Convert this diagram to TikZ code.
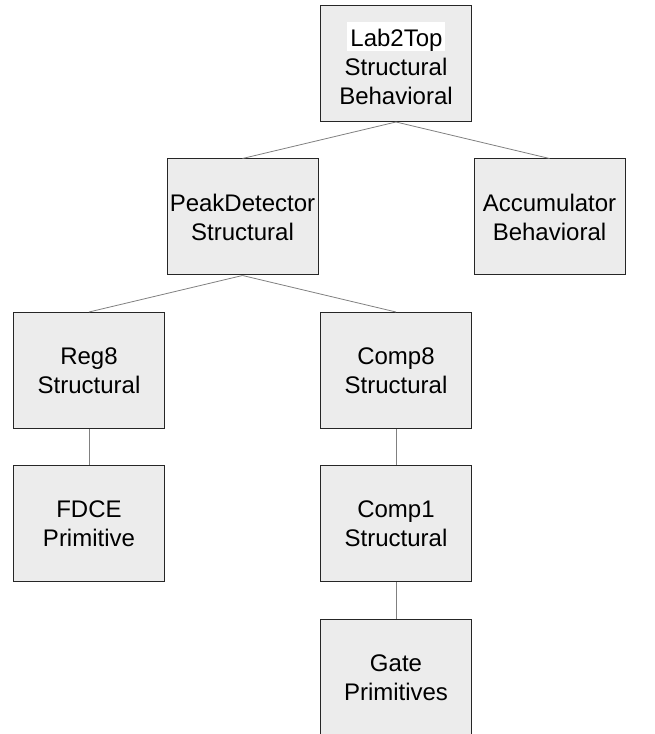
\documentclass[tikz,border=0pt]{standalone}
\usepackage{fontspec}
\setmainfont{Liberation Sans}
\usetikzlibrary{positioning}
\definecolor{boxgray}{RGB}{236,236,236}
\definecolor{linkgray}{RGB}{128,128,128}
\tikzstyle{unit} = [rectangle, draw=black!85, fill=boxgray, line width=1pt,
    minimum width=151pt, minimum height=116pt, align=center, inner sep=0pt,
    font=\fontsize{24pt}{29pt}\selectfont]

\begin{document}
\begin{tikzpicture}[on grid, node distance=153.5pt and 153.5pt,
                    every edge/.style={draw=linkgray, line width=0.8pt}]

  \useasboundingbox (0,0) rectangle (654pt,734pt);
  \clip (0,0) rectangle (654pt,734pt);

  \node[unit] (top) at (396pt,670.5pt)
    {{\setlength{\fboxsep}{0pt}\colorbox{white}{\rule[-2pt]{0pt}{26pt}\kern3pt Lab2Top\kern2pt}}\\Structural\\Behavioral};
  \node[unit] (peak) [below left=of top]   {PeakDetector\\Structural};
  \node[unit] (acc)  [below right=of top]  {Accumulator\\Behavioral};
  \node[unit] (reg)  [below left=of peak]  {Reg8\\Structural};
  \node[unit] (cmp8) [below right=of peak] {Comp8\\Structural};
  \node[unit] (fdce) [below=of reg]        {FDCE\\Primitive};
  \node[unit] (cmp1) [below=of cmp8]       {Comp1\\Structural};
  \node[unit] (gate) [below=of cmp1]       {Gate\\Primitives};

  \path (top.south)  edge (peak.north)
        (top.south)  edge (acc.north)
        (peak.south) edge (reg.north)
        (peak.south) edge (cmp8.north)
        (reg.south)  edge (fdce.north)
        (cmp8.south) edge (cmp1.north)
        (cmp1.south) edge (gate.north);
\end{tikzpicture}
\end{document}
